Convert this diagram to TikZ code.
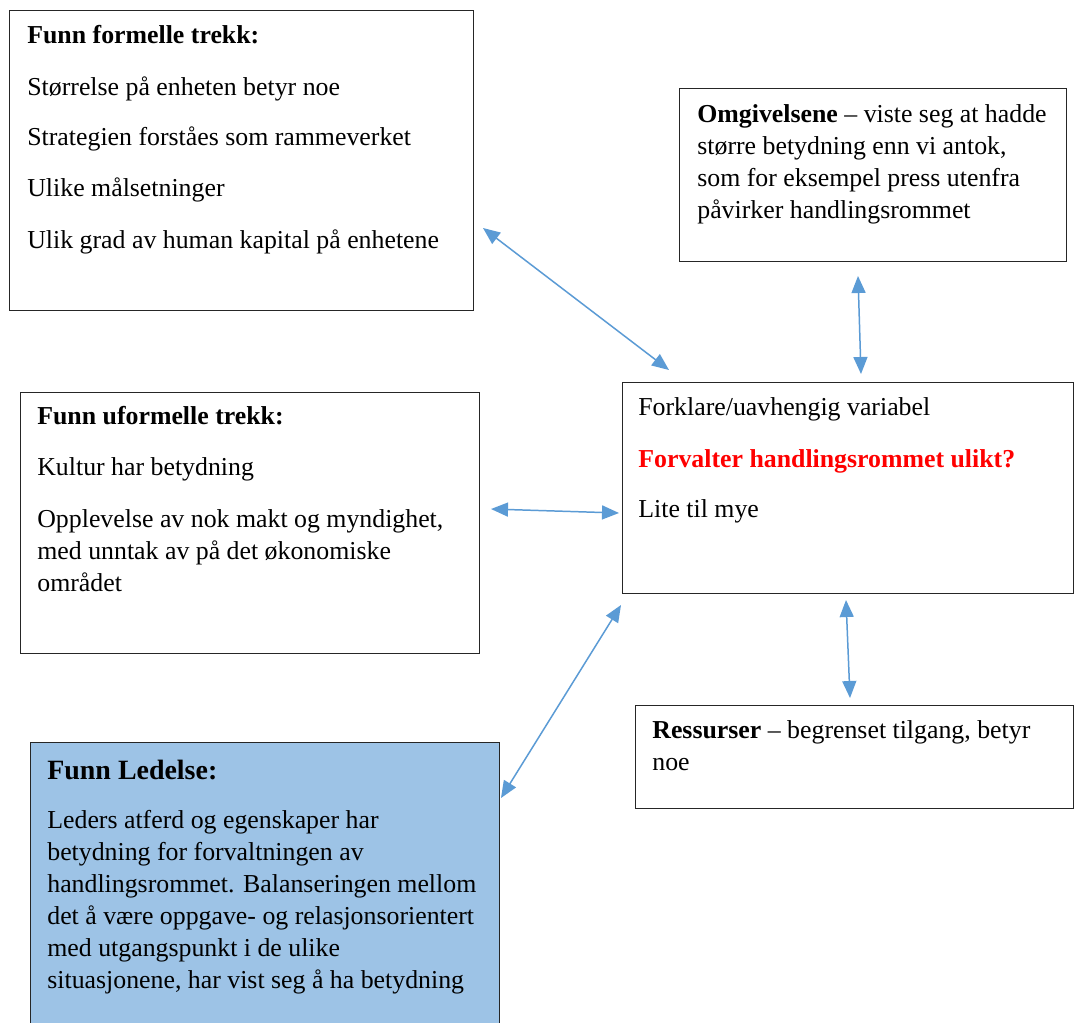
\documentclass[tikz,border=0pt]{standalone}
\usepackage{fontspec}
\setmainfont{Liberation Serif}
\usetikzlibrary{arrows.meta}

\definecolor{pilblaa}{HTML}{5B9BD5}
\definecolor{ledfyll}{HTML}{9DC3E6}
\definecolor{roed}{HTML}{FF0000}

\tikzset{
  boks/.style={draw=black!85, line width=0.8pt, anchor=north west, inner sep=0pt},
  tekst/.style={anchor=base west, inner sep=0pt, align=left,
    font=\fontsize{14.7}{18.2}\selectfont},
  tittel/.style={tekst, font=\fontsize{14.7}{18.2}\selectfont\bfseries},
  pil/.style={draw=pilblaa, line width=0.85pt,
    {Triangle[length=0.34cm,width=0.28cm]}-{Triangle[length=0.34cm,width=0.28cm]}}
}

\begin{document}
\begin{tikzpicture}[x=0.02cm, y=-0.02cm]

% Frame of the page (pixel units)
\clip (0,0) rectangle (1074,1022);
\fill[white] (0,0) rectangle (1074,1022);

% Boxes
\node[boks, minimum width=9.28cm, minimum height=6.00cm] (formelle) at (9,10) {};
\node[boks, minimum width=7.74cm, minimum height=3.46cm] (omgivelse) at (679,88) {};
\node[boks, minimum width=9.02cm, minimum height=4.22cm] (forklare) at (622,382) {};
\node[boks, minimum width=9.18cm, minimum height=5.22cm] (uformelle) at (20,392) {};
\node[boks, minimum width=8.76cm, minimum height=2.06cm] (ressurser) at (635,705) {};
\node[boks, fill=ledfyll, minimum width=9.38cm, minimum height=6.20cm] (ledelse) at (30,742) {};

% Formal traits
\node[tittel] (formelleT) at (27,43) {Funn formelle trekk:};
\node[tekst] (formelle1) at (27,95) {Størrelse på enheten betyr noe};
\node[tekst] (formelle2) at (27,145) {Strategien forståes som rammeverket};
\node[tekst] (formelle3) at (27,196) {Ulike målsetninger};
\node[tekst] (formelle4) at (27,248) {Ulik grad av human kapital på enhetene};

% Surroundings (base = last line)
\node[tekst] (omgivelseT) at (697,218) {\textbf{Omgivelsene} -- viste seg at hadde\\større betydning enn vi antok,\\som for eksempel press utenfra\\påvirker handlingsrommet};

% Explanatory variable
\node[tekst] (forklare1) at (638,415) {Forklare/uavhengig variabel};
\node[tekst, text=roed, font=\fontsize{14.7}{18.2}\selectfont\bfseries] (forklare2) at (638,467) {Forvalter handlingsrommet ulikt?};
\node[tekst] (forklare3) at (638,517) {Lite til mye};

% Informal traits
\node[tittel] (uformelleT) at (37,424) {Funn uformelle trekk:};
\node[tekst] (uformelle1) at (37,475) {Kultur har betydning};
\node[tekst] (uformelle2) at (37,591) {Opplevelse av nok makt og myndighet,\\med unntak av på det økonomiske\\området};

% Resources
\node[tekst] (ressurserT) at (652,770) {\textbf{Ressurser} -- begrenset tilgang, betyr\\noe};

% Leadership
\node[tittel, font=\fontsize{15.9}{19}\selectfont\bfseries] (ledelseT) at (47,779) {Funn Ledelse:};
\node[tekst] (ledelse1) at (47,988) {Leders atferd og egenskaper har\\betydning for forvaltningen av\\handlingsrommet. Balanseringen mellom\\det å være oppgave- og relasjonsorientert\\med utgangspunkt i de ulike\\situasjonene, har vist seg å ha betydning};

% Ends of the arrows
\coordinate (p1a) at (483,228);
\coordinate (p1b) at (669,370);
\coordinate (p2a) at (491,509);
\coordinate (p2b) at (619,513);
\coordinate (p3a) at (858,276);
\coordinate (p3b) at (861,374);
\coordinate (p4a) at (846,600);
\coordinate (p4b) at (850,698);
\coordinate (p5a) at (621,605);
\coordinate (p5b) at (501,798);

% Arrows
\draw[pil] (p1a) -- (p1b);
\draw[pil] (p2a) -- (p2b);
\draw[pil] (p3a) -- (p3b);
\draw[pil] (p4a) -- (p4b);
\draw[pil] (p5a) -- (p5b);

\end{tikzpicture}
\end{document}
